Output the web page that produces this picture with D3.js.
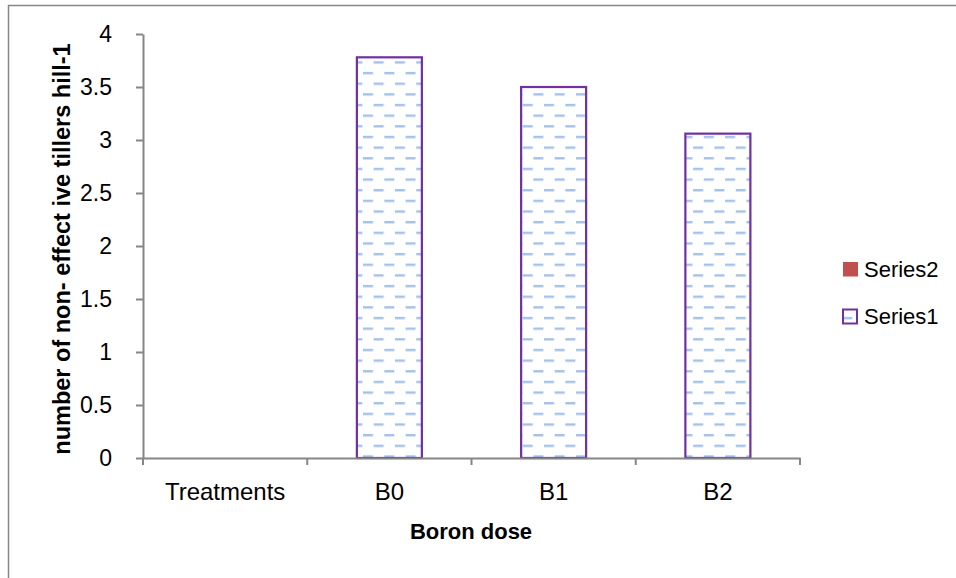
<!DOCTYPE html>
<html>
<head>
<meta charset="utf-8">
<script src="https://cdn.jsdelivr.net/npm/d3@7/dist/d3.min.js"></script>
<style>
  html, body { margin: 0; padding: 0; background: #fff; }
  svg { display: block; font-family: "Liberation Sans", Arial, sans-serif; }
</style>
</head>
<body>
<svg id="chart" width="956" height="578"></svg>
<script>
const categories = ["Treatments", "B0", "B1", "B2"];
const series1 = [null, 3.78, 3.5, 3.06];
const series2 = [null, null, null, null];
const yTicks = [0, 0.5, 1, 1.5, 2, 2.5, 3, 3.5, 4];
const legendItems = ["Series2", "Series1"];
const xTitle = "Boron dose";
const yTitle = "number of non- effect ive tillers hill-1";

const svg = d3.select("#chart");
const axisColor = "#868686";

// outer chart border (only top/left visible in the frame)
svg.append("rect").attr("x", 8.5).attr("y", 5.5).attr("width", 1200).attr("height", 1200)
  .attr("fill", "#fff").attr("stroke", axisColor).attr("stroke-width", 1.5);

const defs = svg.append("defs");
const pat = defs.append("pattern").attr("id", "dash").attr("patternUnits", "userSpaceOnUse")
  .attr("width", 21.3).attr("height", 21.3).attr("x", 363).attr("y", 50.6);
pat.append("rect").attr("width", 21.3).attr("height", 21.3).attr("fill", "#fff");
pat.append("rect").attr("x", 0).attr("y", 0).attr("width", 10).attr("height", 2.4).attr("fill", "#a4c2ea");
pat.append("rect").attr("x", 10.65).attr("y", 10.65).attr("width", 10).attr("height", 2.4).attr("fill", "#a4c2ea");

const x = d3.scaleBand().domain(categories).range([143, 800]).padding(0);
const y = d3.scaleLinear().domain([0, 4]).range([458, 34]);
const barW = 65;

// bars (Series1)
svg.append("g").selectAll("rect").data(categories.map((c, i) => ({c, v: series1[i]})).filter(d => d.v != null))
  .join("rect")
  .attr("x", d => x(d.c) + x.bandwidth() / 2 - barW / 2)
  .attr("y", d => y(d.v))
  .attr("width", barW)
  .attr("height", d => y(0) - y(d.v))
  .attr("fill", "url(#dash)")
  .attr("stroke", "#7030a0")
  .attr("stroke-width", 2.2);

// y axis
const yAxis = svg.append("g").attr("transform", "translate(143,0)")
  .call(d3.axisLeft(y).tickValues(yTicks).tickFormat(d3.format("")).tickSize(7).tickSizeOuter(0).tickPadding(24));
yAxis.select(".domain").attr("stroke", axisColor).attr("stroke-width", 2);
yAxis.selectAll(".tick line").attr("stroke", axisColor).attr("stroke-width", 2);
yAxis.selectAll(".tick text").attr("font-size", 23).attr("fill", "#000")
  .attr("font-family", "Liberation Sans, Arial, sans-serif");

// x axis
const xAxis = svg.append("g").attr("transform", "translate(0,458)")
  .call(d3.axisBottom(x).tickSize(0).tickPadding(25));
xAxis.select(".domain").attr("stroke", axisColor).attr("stroke-width", 2);
xAxis.selectAll(".tick text").attr("font-size", 24).attr("fill", "#000")
  .attr("font-family", "Liberation Sans, Arial, sans-serif");
// tick marks at category boundaries
const bounds = categories.map(c => x(c)).concat([x.range()[1]]);
xAxis.append("g").selectAll("line").data(bounds).join("line")
  .attr("x1", d => d).attr("x2", d => d).attr("y1", 0).attr("y2", 7)
  .attr("stroke", axisColor).attr("stroke-width", 2);

// axis titles
svg.append("text").attr("x", 471).attr("y", 539).attr("text-anchor", "middle")
  .attr("font-size", 22).attr("font-weight", "bold").text(xTitle);
svg.append("text").attr("transform", "translate(70,249) rotate(-90)").attr("text-anchor", "middle")
  .attr("font-size", 23.5).attr("font-weight", "bold").text(yTitle);

// legend
const leg = svg.append("g");
const legY = [262, 309];
legendItems.forEach((name, i) => {
  if (name === "Series2") {
    leg.append("rect").attr("x", 843).attr("y", legY[i]).attr("width", 15).attr("height", 14.5).attr("fill", "#c0504d");
  } else {
    leg.append("rect").attr("x", 843).attr("y", legY[i] + 0.5).attr("width", 14).attr("height", 14)
      .attr("fill", "url(#dash)").attr("stroke", "#7030a0").attr("stroke-width", 2);
  }
  leg.append("text").attr("x", 864).attr("y", legY[i] + 15).attr("font-size", 22).attr("fill", "#000").text(name);
});
</script>
</body>
</html>
